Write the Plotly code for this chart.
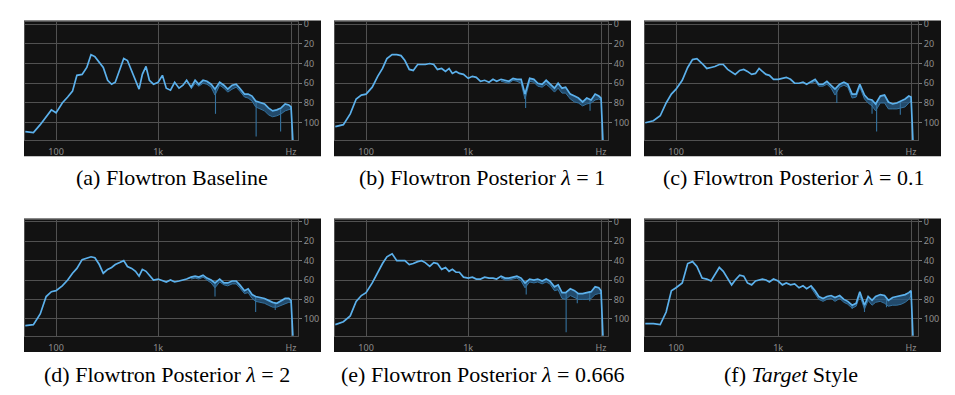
import math
import plotly.graph_objects as go

# ---------------- data ----------------
freqs_hz = [50, 60, 70, 80, 90, 100, 115, 130, 145, 160, 180, 200, 220, 240, 265, 290, 320, 350,
            380, 420, 460, 500, 550, 600, 650, 700, 760, 820, 900, 1000, 1100, 1200, 1320, 1450,
            1600, 1750, 1900, 2100, 2300, 2500, 2750, 3000, 3300, 3600, 4000, 4400, 4800, 5300,
            5800, 6300, 7000, 7600, 8300, 9000, 10000, 11000, 12000, 13200, 14500, 16000, 17500,
            19000, 20000, 21000]

band_hz = [2100, 2300, 2500, 2750, 3000, 3300, 3600, 4000, 4400, 4800, 5300, 5800, 6300, 7000,
           7600, 8300, 9000, 10000, 11000, 12000, 13200, 14500, 16000, 17500, 19000, 20000]

x_tick_hz = [100, 1000, 20000]
x_tick_text = ["100", "1k", "Hz"]
y_tick_db = [0, 20, 40, 60, 80, 100]
y_tick_text = ["0", "20", "40", "60", "80", "100"]

captions = [
    "(a) Flowtron Baseline",
    "(b) Flowtron Posterior <i>λ</i> = 1",
    "(c) Flowtron Posterior <i>λ</i> = 0.1",
    "(d) Flowtron Posterior <i>λ</i> = 2",
    "(e) Flowtron Posterior <i>λ</i> = 0.666",
    "(f) <i>Target</i> Style",
]

# level below 0 dB (axis reads downward)
a_db = [109, 110, 102, 94, 87, 90, 80, 74, 68, 52, 51, 44, 31, 33, 39, 44, 57, 61, 59, 46,
        35, 37, 47, 56, 66, 51, 43, 57, 61, 59, 52, 65, 67, 59, 65, 62, 57,
        64, 57, 61, 57, 58, 61, 66, 59, 62, 66, 62, 61, 65, 71, 71, 73, 78, 80, 81, 85,
        88, 87, 85, 81, 82, 84, 125]
a_low = [66, 60, 63, 60, 61, 64, 72, 62, 65, 69, 66, 64, 68, 74, 75, 78, 84, 86, 88, 92,
         94, 93, 91, 88, 87, 86]
a_spike_hz = [3640, 9100, 15800]
a_spike_top = [66, 78, 85]
a_spike_bottom = [91, 114, 109]

b_db = [104, 102, 91, 76, 72, 71, 64, 53, 45, 35, 31, 31, 32, 37, 46, 47, 41, 41, 41, 40,
        41, 46, 45, 48, 45, 50, 48, 50, 51, 55, 53, 54, 58, 57, 59, 56, 58,
        56, 57, 58, 55, 56, 56, 71, 55, 56, 60, 61, 57, 61, 65, 60, 65, 64, 71, 73, 75,
        79, 75, 77, 71, 73, 75, 125]
b_low = [58, 59, 60, 57, 58, 60, 76, 58, 59, 63, 64, 61, 64, 69, 65, 70, 70, 76, 79, 80,
         83, 81, 80, 77, 76, 77]
b_spike_hz = [3650, 15600]
b_spike_top = [70, 77]
b_spike_bottom = [85, 88]

c_db = [100, 98, 93, 80, 71, 66, 57, 44, 36, 35, 40, 45, 44, 43, 41, 41, 46, 49, 51, 47,
        46, 48, 51, 50, 45, 48, 51, 52, 56, 56, 55, 54, 56, 60, 60, 59, 61,
        58, 56, 61, 61, 58, 62, 66, 61, 59, 61, 71, 71, 61, 72, 76, 77, 81, 73, 72, 79,
        81, 80, 78, 76, 73, 74, 125]
c_low = [60, 58, 63, 63, 61, 65, 72, 64, 62, 64, 75, 74, 64, 76, 80, 83, 88, 80, 80, 86,
         86, 86, 85, 84, 80, 78]
c_spike_hz = [3750, 8300, 9200, 15700]
c_spike_top = [66, 77, 81, 78]
c_spike_bottom = [80, 91, 109, 92]

d_db = [107, 106, 95, 77, 72, 71, 66, 60, 53, 48, 39, 37, 36, 37, 44, 53, 49, 47, 44, 42,
        40, 46, 48, 51, 56, 49, 51, 55, 60, 59, 61, 62, 60, 62, 61, 60, 59,
        57, 56, 57, 55, 58, 60, 63, 59, 63, 63, 61, 61, 65, 71, 69, 75, 77, 78, 79, 81,
        83, 84, 81, 79, 79, 81, 125]
d_low = [59, 58, 59, 57, 60, 63, 68, 62, 65, 66, 64, 64, 68, 74, 73, 79, 82, 83, 84, 86,
         88, 88, 86, 85, 83, 83]
d_spike_hz = [3600, 9000, 14000]
d_spike_top = [63, 77, 84]
d_spike_bottom = [77, 93, 91]

e_db = [106, 103, 97, 82, 76, 73, 63, 52, 43, 36, 33, 40, 40, 40, 44, 43, 41, 40, 42, 46,
        42, 43, 49, 47, 51, 49, 52, 52, 57, 58, 57, 59, 59, 57, 58, 58, 59,
        56, 58, 58, 57, 56, 58, 63, 59, 60, 59, 61, 59, 61, 67, 65, 73, 73, 69, 71, 74,
        74, 73, 72, 67, 68, 71, 125]
e_low = [58, 60, 60, 59, 58, 61, 68, 62, 63, 62, 64, 62, 64, 71, 70, 79, 80, 76, 78, 80,
         80, 80, 79, 75, 74, 74]
e_spike_hz = [3700, 9100, 11700, 15500]
e_spike_top = [63, 73, 73, 72]
e_spike_bottom = [75, 114, 84, 82]

f_db = [105, 105, 106, 93, 71, 68, 63, 43, 41, 46, 58, 59, 61, 54, 47, 51, 58, 65, 60, 55,
        56, 63, 65, 61, 60, 59, 60, 62, 59, 61, 65, 63, 65, 64, 68, 66, 69,
        66, 71, 77, 79, 77, 76, 78, 76, 80, 82, 86, 84, 72, 86, 77, 81, 77, 75, 76, 81,
        78, 77, 76, 75, 73, 71, 125]
f_low = [68, 74, 80, 82, 80, 79, 82, 79, 83, 85, 89, 87, 76, 90, 81, 86, 83, 82, 84, 87,
         86, 86, 85, 83, 80, 76]
f_spike_hz = [5300, 7000, 11500]
f_spike_top = [86, 86, 80]
f_spike_bottom = [90, 93, 88]

panels = [
    (a_db, a_low, a_spike_hz, a_spike_top, a_spike_bottom),
    (b_db, b_low, b_spike_hz, b_spike_top, b_spike_bottom),
    (c_db, c_low, c_spike_hz, c_spike_top, c_spike_bottom),
    (d_db, d_low, d_spike_hz, d_spike_top, d_spike_bottom),
    (e_db, e_low, e_spike_hz, e_spike_top, e_spike_bottom),
    (f_db, f_low, f_spike_hz, f_spike_top, f_spike_bottom),
]

# ---------------- layout geometry (pixels) ----------------
W, H = 955, 395
col_px = [(25, 298), (335, 608), (645, 918)]
row_px = [(17.3, 136.7), (217.7, 335.0)]
caption_xy = [(172, 174.5), (482, 174.5), (793, 174.5), (167, 374.5), (482, 374.5), (791, 374.5)]

LINE = "#5cb1ec"
BAND = "rgba(40,94,138,0.75)"
SPIKE = "#34729f"
GRID = "#515151"
LABEL = "#8e8e8e"
OUTER = "#121212"
INNER = "#0e0e0e"

fig = go.Figure()
layout = dict(
    width=W, height=H, margin=dict(l=0, r=0, t=0, b=0),
    paper_bgcolor="white", plot_bgcolor=INNER, showlegend=False,
    shapes=[], annotations=[],
)

for i, (db, low, sp_hz, sp_top, sp_bot) in enumerate(panels):
    r, c = divmod(i, 3)
    x0, x1 = col_px[c]
    y0, y1 = row_px[r]
    n = "" if i == 0 else str(i + 1)
    xa, ya = "x" + n, "y" + n

    # dark panel box (including label strips)
    layout["shapes"].append(dict(
        type="rect", xref="paper", yref="paper", layer="below",
        x0=(x0 - 1) / W, x1=(x1 + 23) / W, y0=1 - (y1 + 16.5) / H, y1=1 - (y0 - 1.5) / H,
        fillcolor=OUTER, line=dict(width=0)))

    main_at = dict(zip(freqs_hz, db))
    # darker band under the curve (min/peak spread)
    fig.add_trace(go.Scatter(x=band_hz, y=low, mode="lines", xaxis=xa, yaxis=ya,
                             line=dict(color=SPIKE, width=1), hoverinfo="skip"))
    fig.add_trace(go.Scatter(x=band_hz, y=[main_at[f] for f in band_hz], mode="lines",
                             xaxis=xa, yaxis=ya, fill="tonexty", fillcolor=BAND,
                             line=dict(width=0), hoverinfo="skip"))
    # narrow dips
    sx, sy = [], []
    for f, t, b in zip(sp_hz, sp_top, sp_bot):
        sx += [f, f, None]
        sy += [t, b, None]
    fig.add_trace(go.Scatter(x=sx, y=sy, mode="lines", xaxis=xa, yaxis=ya,
                             line=dict(color=SPIKE, width=1.1), hoverinfo="skip"))
    # main spectrum
    fig.add_trace(go.Scatter(x=freqs_hz, y=db, mode="lines", xaxis=xa, yaxis=ya,
                             line=dict(color=LINE, width=1.7)))

    layout["xaxis" + n] = dict(
        type="log", range=[1.696, 4.369], domain=[x0 / W, x1 / W], anchor=ya,
        tickvals=x_tick_hz, ticktext=x_tick_text, ticks="", showgrid=True,
        gridcolor=GRID, gridwidth=1, showline=True, linecolor=GRID, mirror=True,
        zeroline=False, tickfont=dict(family="Noto Sans", size=9, color=LABEL),
        ticklabelstandoff=3, fixedrange=True)
    layout["yaxis" + n] = dict(
        range=[117.5, -2], domain=[1 - y1 / H, 1 - y0 / H], anchor=xa, side="right",
        tickvals=y_tick_db, ticktext=y_tick_text, ticks="outside", ticklen=3,
        tickcolor="#777777", showgrid=True, gridcolor=GRID, gridwidth=1,
        showline=True, linecolor=GRID, mirror=True, zeroline=False,
        tickfont=dict(family="Noto Sans", size=9, color=LABEL), fixedrange=True)

    cx, cy = caption_xy[i]
    layout["annotations"].append(dict(
        text=captions[i], xref="paper", yref="paper", x=cx / W, y=1 - cy / H,
        xanchor="center", yanchor="middle", showarrow=False,
        font=dict(family="Liberation Serif, Times New Roman, serif", size=22, color="black")))

fig.update_layout(**layout)
fig.write_html("out.html", config={"displayModeBar": False},
               post_script="document.body.style.margin='0';")
